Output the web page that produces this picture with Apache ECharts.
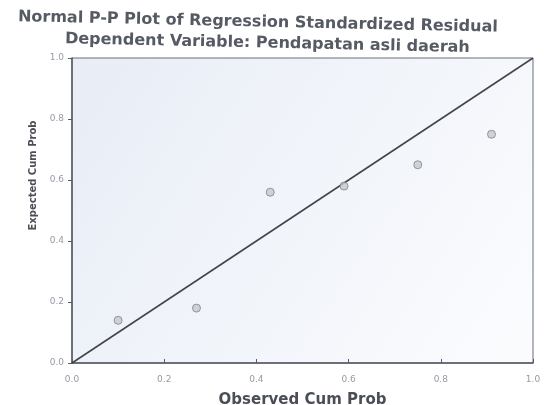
<!DOCTYPE html>
<html lang="en">
<head>
	<meta charset="UTF-8">
	<title>Normal P-P Plot</title>
	<style>
		html, body { margin: 0; padding: 0; background: #fff; }
		#container { width: 550px; height: 405px; }
	</style>
</head>
<body>
	<div id="container"></div>
	<script src="https://cdn.jsdelivr.net/npm/echarts@6/dist/echarts.min.js"></script>
	<script>
		// observed vs expected cumulative probabilities
		var observedCum = [0.10, 0.27, 0.43, 0.59, 0.75, 0.91];
		var expectedCum = [0.14, 0.18, 0.56, 0.58, 0.65, 0.75];
		var refLine = [[0, 0], [1, 1]];
		var tickLabels = ['0.0', '0.2', '0.4', '0.6', '0.8', '1.0'];
		var mainTitle = 'Normal P-P Plot of Regression Standardized Residual';
		var subTitle = 'Dependent Variable: Pendapatan asli daerah';

		var points = observedCum.map(function(v, i) {
			return [v, expectedCum[i]];
		});

		var myChart = echarts.init(document.getElementById('container'));

		var labelStyle = {
			color: '#959aa3',
			fontSize: 9,
			fontFamily: 'DejaVu Sans',
			formatter: function(v) {
				return tickLabels[Math.round(v * 5)];
			}
		};

		var option = {
			backgroundColor: '#fff',
			// the photo is tilted a little, so the titles slope down to the right
			graphic: [{
				type: 'text',
				x: 18,
				y: 17,
				rotation: -0.022,
				style: {
					text: mainTitle,
					font: 'bold 16px "DejaVu Sans"',
					fill: '#555a63',
					verticalAlign: 'middle'
				}
			}, {
				type: 'text',
				x: 65,
				y: 39,
				rotation: -0.022,
				style: {
					text: subTitle,
					font: 'bold 16px "DejaVu Sans"',
					fill: '#555a63',
					verticalAlign: 'middle'
				}
			}],
			grid: {
				left: 72,
				right: 17,
				top: 58,
				bottom: 42,
				outerBoundsMode: 'none',
				show: true,
				backgroundColor: new echarts.graphic.LinearGradient(0, 0, 1, 1, [
					{ offset: 0, color: '#e8edf6' },
					{ offset: 1, color: '#fbfcfe' }
				]),
				borderColor: '#6b6f78',
				borderWidth: 1
			},
			xAxis: {
				type: 'value',
				min: 0,
				max: 1,
				interval: 0.2,
				name: 'Observed Cum Prob',
				nameLocation: 'middle',
				nameGap: 30,
				nameTextStyle: { color: '#4a4e57', fontSize: 15, fontWeight: 'bold', fontFamily: 'DejaVu Sans' },
				axisLine: { lineStyle: { color: '#555a63', width: 1.5 } },
				axisTick: { show: true, inside: true, length: 4, lineStyle: { color: '#555a63' } },
				axisLabel: Object.assign({ margin: 12 }, labelStyle),
				splitLine: { show: false }
			},
			yAxis: {
				type: 'value',
				min: 0,
				max: 1,
				interval: 0.2,
				name: 'Expected Cum Prob',
				nameLocation: 'middle',
				nameGap: 34,
				nameTextStyle: {
					color: '#4a4e57',
					fontSize: 10,
					fontWeight: 'bold',
					fontFamily: 'DejaVu Sans',
					padding: [0, 0, 0, 70]
				},
				axisLine: { lineStyle: { color: '#555a63', width: 1.5 } },
				axisTick: { show: true, length: 4, lineStyle: { color: '#555a63' } },
				axisLabel: labelStyle,
				splitLine: { show: false }
			},
			series: [{
				type: 'line',
				data: refLine,
				symbol: 'none',
				silent: true,
				lineStyle: { color: '#3f434b', width: 1.5 },
				z: 2
			}, {
				type: 'scatter',
				data: points,
				symbol: 'circle',
				symbolSize: 8,
				itemStyle: {
					color: '#c6c9cf',
					borderColor: '#7d818a',
					borderWidth: 1
				},
				z: 3
			}]
		};

		myChart.setOption(option);
	</script>
</body>
</html>
